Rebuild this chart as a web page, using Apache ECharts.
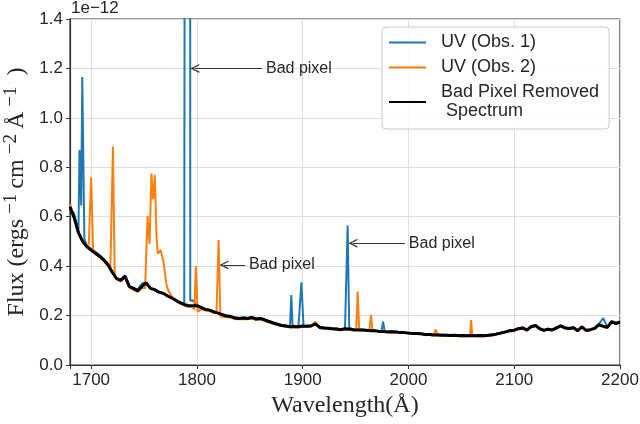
<!DOCTYPE html>
<html>
<head>
<meta charset="utf-8">
<script src="https://cdn.jsdelivr.net/npm/echarts@6/dist/echarts.min.js"></script>
<style>
  html, body { margin: 0; padding: 0; background: #fff; }
  #spectrum { width: 640px; height: 424px; }
</style>
</head>
<body>
<div id="spectrum"></div>
<script>
// wavelength grid (Angstrom)
var wave = [
  1680,1684,1688,1692,1696,1700,1704,1708,1712,1716,
  1720,1724,1728,1732,1736,1740,1744,1748,1752,1756,
  1760,1764,1768,1772,1776,1780,1784,1788,1792,1796,
  1800,1804,1808,1812,1816,1820,1824,1828,1832,1836,
  1840,1844,1848,1852,1856,1860,1864,1868,1872,1876,
  1880,1884,1888,1892,1896,1900,1904,1908,1912,1916,
  1920,1924,1928,1932,1936,1940,1944,1948,1952,1956,
  1960,1964,1968,1972,1976,1980,1984,1988,1992,1996,
  2000,2004,2008,2012,2016,2020,2024,2028,2032,2036,
  2040,2044,2048,2052,2056,2060,2064,2068,2072,2076,
  2080,2084,2088,2092,2096,2100,2104,2108,2112,2116,
  2120,2124,2128,2132,2136,2140,2144,2148,2152,2156,
  2160,2164,2168,2172,2176,2180,2184,2188,2192,2196,
  2200
];

// flux in units of 1e-12 erg/s/cm2/A
var cleanFlux = [
  0.640,0.595,0.535,0.500,0.478,0.465,0.452,0.440,0.425,0.405,
  0.375,0.350,0.342,0.360,0.318,0.310,0.300,0.318,0.332,0.310,
  0.305,0.295,0.290,0.280,0.272,0.262,0.252,0.245,0.240,0.240,
  0.240,0.232,0.225,0.222,0.215,0.210,0.204,0.198,0.196,0.190,
  0.188,0.190,0.188,0.192,0.186,0.188,0.182,0.176,0.170,0.165,
  0.160,0.158,0.155,0.156,0.155,0.158,0.157,0.158,0.166,0.152,
  0.150,0.149,0.147,0.146,0.143,0.147,0.146,0.143,0.142,0.142,
  0.141,0.139,0.139,0.136,0.136,0.134,0.135,0.134,0.131,0.131,
  0.129,0.127,0.127,0.126,0.123,0.123,0.121,0.121,0.120,0.120,
  0.119,0.120,0.118,0.119,0.118,0.119,0.118,0.119,0.118,0.120,
  0.122,0.126,0.130,0.134,0.139,0.141,0.147,0.150,0.141,0.155,
  0.160,0.147,0.140,0.145,0.142,0.150,0.158,0.150,0.148,0.151,
  0.139,0.154,0.140,0.143,0.148,0.163,0.157,0.152,0.175,0.168,
  0.174
];

var obs1Flux = [
  0.632,0.612,0.540,1.030,0.482,0.470,0.458,0.445,0.428,0.410,
  0.378,0.352,0.345,0.362,0.320,0.312,0.305,0.330,0.335,0.312,
  0.306,0.297,0.292,0.282,0.274,0.264,0.254,0.247,9.000,0.262,
  0.242,0.234,0.227,0.223,0.217,0.212,0.206,0.200,0.198,0.192,
  0.190,0.192,0.190,0.194,0.188,0.190,0.184,0.178,0.172,0.167,
  0.162,0.160,0.155,0.158,0.155,0.227,0.160,0.160,0.168,0.155,
  0.152,0.151,0.149,0.148,0.145,0.148,0.150,0.145,0.144,0.144,
  0.142,0.140,0.140,0.138,0.175,0.136,0.137,0.136,0.133,0.133,
  0.131,0.129,0.129,0.128,0.125,0.125,0.123,0.123,0.122,0.122,
  0.121,0.121,0.120,0.120,0.120,0.120,0.120,0.120,0.120,0.121,
  0.124,0.128,0.132,0.136,0.141,0.143,0.149,0.152,0.143,0.157,
  0.162,0.149,0.142,0.147,0.144,0.152,0.160,0.152,0.150,0.153,
  0.141,0.156,0.142,0.145,0.150,0.165,0.190,0.154,0.177,0.170,
  0.176
];
// extra samples around the bad pixels of observation 1
var obs1Extra = [
  [1689.0, 0.870], [1690.6, 0.645], [1691.6, 1.165], [1693.6, 0.510],
  [1789.8, 0.250], [1790.3, 9.000], [1793.2, 9.000], [1793.7, 0.260],
  [1889.2, 0.283], [1890.4, 0.160], [1897.2, 0.155], [1898.8, 0.335], [1900.8, 0.155],
  [1941.2, 0.148], [1942.5, 0.564],
  [1974.6, 0.138], [1977.5, 0.137]
];

var obs2Flux = [
  0.650,0.590,0.530,0.495,0.478,0.760,0.448,0.436,0.420,0.400,
  0.760,0.346,0.338,0.352,0.313,0.304,0.296,0.312,0.437,0.617,
  0.757,0.456,0.424,0.315,0.279,0.258,0.248,0.240,0.236,0.235,
  0.284,0.226,0.220,0.218,0.210,0.430,0.198,0.193,0.192,0.186,
  0.185,0.186,0.185,0.188,0.182,0.185,0.180,0.173,0.168,0.162,
  0.158,0.155,0.153,0.153,0.152,0.155,0.155,0.156,0.175,0.150,
  0.148,0.146,0.145,0.143,0.141,0.144,0.143,0.140,0.297,0.140,
  0.139,0.178,0.137,0.134,0.134,0.132,0.133,0.132,0.129,0.129,
  0.127,0.125,0.125,0.124,0.121,0.121,0.119,0.119,0.118,0.118,
  0.117,0.118,0.116,0.117,0.116,0.135,0.116,0.117,0.116,0.118,
  0.120,0.124,0.128,0.132,0.137,0.139,0.145,0.148,0.139,0.153,
  0.158,0.145,0.138,0.143,0.140,0.148,0.156,0.148,0.146,0.149,
  0.137,0.152,0.138,0.141,0.146,0.161,0.155,0.150,0.173,0.166,
  0.172
];
// extra samples around the bad pixels of observation 2
var obs2Extra = [
  [1697.8, 0.490], [1701.8, 0.470],
  [1718.2, 0.398], [1720.6, 0.884], [1722.3, 0.360],
  [1751.0, 0.310], [1753.3, 0.603], [1755.2, 0.490], [1757.0, 0.775], [1758.6, 0.670],
  [1760.2, 0.770], [1761.8, 0.520], [1763.0, 0.450], [1765.7, 0.466], [1768.5, 0.415],
  [1771.0, 0.330], [1773.0, 0.300],
  [1797.6, 0.225], [1799.0, 0.400], [1800.6, 0.215],
  [1818.5, 0.212], [1820.5, 0.506], [1822.2, 0.196],
  [1950.6, 0.140], [1953.4, 0.140],
  [1963.0, 0.138], [1964.6, 0.202], [1966.0, 0.137],
  [2025.6, 0.144],
  [2058.2, 0.117], [2059.2, 0.182], [2060.5, 0.118]
];

// "Bad pixel" arrows: text end, arrow head, flux level
var noteTail = [1861.5, 1845.4, 1996.6];
var noteHead = [1798.0, 1825.6, 1947.5];
var noteFlux = [1.200, 0.405, 0.493];

var seriesNames = ['UV (Obs. 1)', 'UV (Obs. 2)', 'Bad Pixel Removed\n Spectrum'];

function withExtra(flux, extra) {
    var pts = wave.map(function (w, i) { return [w, flux[i]]; });
    if (extra) pts = pts.concat(extra);
    pts.sort(function (a, b) { return a[0] - b[0]; });
    return pts;
}

var sans = 'Liberation Sans';
var serif = 'Liberation Serif';
var ink = '#262626';
var arrowHead = 'path://M0,10L5,0L10,10L8.4,10L5,3.2L1.6,10Z';

var chart = echarts.init(document.getElementById('spectrum'));
var option = {
    animation: false,
    backgroundColor: '#fff',
    title: {
        text: '1e\u221212',
        left: 71,
        top: 0,
        padding: 0,
        textStyle: { fontFamily: sans, fontSize: 17, fontWeight: 'normal', color: ink }
    },
    grid: {
        left: 70, right: 20, top: 19, bottom: 59,
        outerBoundsMode: 'none',
        containLabel: false,
        show: true, borderColor: '#333', borderWidth: 1.2
    },
    legend: {
        orient: 'vertical',
        left: 382,
        top: 27,
        itemWidth: 37,
        itemHeight: 2,
        itemGap: 6,
        padding: [6, 10, 8, 6],
        backgroundColor: 'rgba(255,255,255,0.85)',
        borderColor: '#cccccc',
        borderWidth: 1,
        borderRadius: 4,
        textStyle: { fontFamily: sans, fontSize: 18, color: ink, lineHeight: 19, padding: [0, 0, 0, 10] },
        data: seriesNames
    },
    xAxis: {
        type: 'value',
        min: 1680,
        max: 2200,
        minInterval: 100,
        maxInterval: 100,
        name: 'Wavelength(\u00c5)',
        nameLocation: 'middle',
        nameGap: 26,
        nameTextStyle: { fontFamily: serif, fontSize: 24, color: ink },
        axisLine: { lineStyle: { color: '#333', width: 1.2 } },
        axisTick: { show: true, length: 4, lineStyle: { color: '#333' } },
        axisLabel: {
            fontFamily: sans, fontSize: 17, color: ink, margin: 7,
            formatter: function (v) { return v % 100 === 0 ? String(v) : ''; }
        },
        splitLine: { show: true, lineStyle: { color: '#dedede', width: 1 } }
    },
    yAxis: {
        type: 'value',
        min: 0,
        max: 1.4,
        interval: 0.2,
        name: '{t|Flux (ergs}{s|\u22121}{t|cm}{s|\u22122}{t|\u00c5}{s|\u22121}{p|)}',
        nameLocation: 'middle',
        nameRotate: 90,
        nameGap: 33,
        nameTextStyle: {
            fontFamily: serif, fontSize: 24, color: ink,
            rich: {
                t: { fontFamily: serif, fontSize: 24, color: ink, lineHeight: 30 },
                s: { fontFamily: serif, fontSize: 19, color: ink, verticalAlign: 'top', padding: [0, 5, 0, 5] },
                p: { fontFamily: serif, fontSize: 24, color: ink, lineHeight: 30, padding: [0, 0, 0, 6] }
            }
        },
        axisLine: { show: true, lineStyle: { color: '#333', width: 1.2 } },
        axisTick: { show: true, length: 4, lineStyle: { color: '#333' } },
        axisLabel: {
            fontFamily: sans, fontSize: 17, color: ink, margin: 7,
            formatter: function (v) { return v.toFixed(1); }
        },
        splitLine: { show: true, lineStyle: { color: '#dedede', width: 1 } }
    },
    series: [
        {
            name: seriesNames[0],
            type: 'line',
            symbol: 'none',
            clip: true,
            color: '#1f77b4',
            lineStyle: { width: 2, color: '#1f77b4' },
            data: withExtra(obs1Flux, obs1Extra)
        },
        {
            name: seriesNames[1],
            type: 'line',
            symbol: 'none',
            clip: true,
            color: '#ff7f0e',
            lineStyle: { width: 2, color: '#ff7f0e' },
            data: withExtra(obs2Flux, obs2Extra)
        },
        {
            name: seriesNames[2],
            type: 'line',
            symbol: 'none',
            clip: true,
            color: '#000',
            lineStyle: { width: 3, color: '#000' },
            data: withExtra(cleanFlux),
            markLine: {
                silent: true,
                animation: false,
                symbol: ['none', arrowHead],
                symbolSize: 9,
                lineStyle: { color: '#333', width: 1, type: 'solid' },
                label: {
                    show: true,
                    position: 'start',
                    distance: 4,
                    formatter: 'Bad pixel',
                    fontFamily: sans,
                    fontSize: 16,
                    color: ink
                },
                data: noteTail.map(function (t, i) {
                    return [{ coord: [t, noteFlux[i]] }, { coord: [noteHead[i], noteFlux[i]] }];
                })
            }
        }
    ]
};
chart.setOption(option);
</script>
</body>
</html>
